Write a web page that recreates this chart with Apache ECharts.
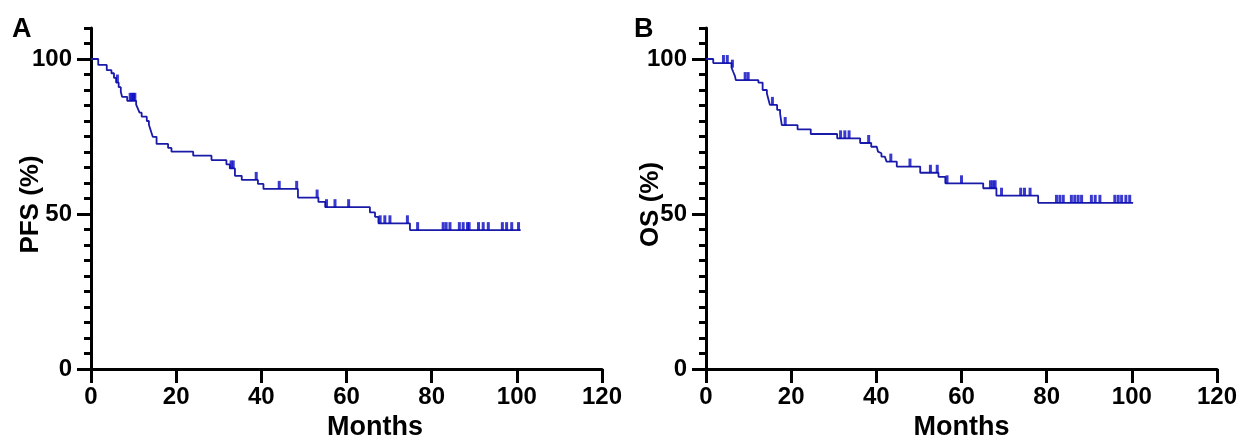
<!DOCTYPE html>
<html>
<head>
<meta charset="utf-8">
<script src="https://cdn.jsdelivr.net/npm/echarts@6/dist/echarts.min.js"></script>
<style>html,body{margin:0;padding:0;background:#fff}#c{width:1244px;height:439px}</style>
</head>
<body>
<div id="c"></div>
<script>
// ---- Data ----
const xTicks = [0, 20, 40, 60, 80, 100, 120];
const yMajorTicks = [0, 50, 100];
const yMinorTicks = [5,10,15,20,25,30,35,40,45,55,60,65,70,75,80,85,90,95,105,110];

// Panel A: PFS step points [month, survival % after event]
const pfsSteps = [[0,100],[1.7,98.1],[3.7,96.4],[4.8,95.4],[5.4,93.9],[5.9,92.4],[6.5,90.9],[7.0,89.4],[7.3,87.8],[8.5,86.5],[10.6,85.3],[11.0,84.0],[11.4,82.7],[11.9,81.4],[13.1,80.0],[13.6,78.8],[13.9,77.5],[14.2,76.2],[14.5,74.9],[15.4,72.6],[18.1,71.3],[18.9,70.1],[24.0,68.8],[28.3,67.4],[31.8,66.0],[32.6,64.7],[33.8,62.3],[35.4,61.0],[39.2,59.7],[40.5,58.1],[48.6,55.3],[53.4,53.9],[55.0,52.2],[65.5,50.5],[66.7,49.1],[67.5,47.0],[74.9,44.8],[100.9,44.8]];
// Panel A: censored observations [month, survival %]
const pfsCensored = [[6.2,92.4],[9.2,86.5],[9.6,86.5],[10.0,86.5],[10.3,86.5],[32.9,64.7],[33.4,64.7],[38.8,61.0],[44.2,58.1],[48.3,58.1],[53.1,55.3],[55.3,52.2],[57.3,52.2],[60.5,52.2],[67.9,47.0],[69.0,47.0],[70.2,47.0],[74.3,47.0],[76.7,44.8],[82.7,44.8],[83.4,44.8],[84.3,44.8],[86.5,44.8],[87.4,44.8],[88.4,44.8],[88.8,44.8],[91.0,44.8],[92.1,44.8],[93.3,44.8],[96.6,44.8],[97.6,44.8],[98.8,44.8],[100.4,44.8]];

// Panel B: OS step points
const osSteps = [[0,100],[1.7,98.7],[6.0,97.2],[6.4,95.8],[6.8,94.5],[7.0,93.2],[12.3,92.4],[13.3,90.0],[14.3,88.9],[14.7,86.8],[15.0,85.2],[16.7,83.6],[17.4,82.4],[17.6,80.5],[17.8,78.7],[21.5,77.3],[24.6,75.8],[30.8,74.4],[36.2,72.9],[38.8,71.7],[40.1,71.1],[40.4,70.1],[40.8,69.6],[41.2,68.5],[42.0,68.0],[42.4,66.9],[44.8,65.3],[50.3,63.3],[54.6,62.0],[56.2,59.9],[65.1,58.3],[68.2,55.9],[78.0,53.6],[100.3,53.6]];
const osCensored = [[4.1,98.7],[5.0,98.7],[6.2,97.2],[9.2,93.2],[9.9,93.2],[15.6,85.2],[18.6,78.7],[31.6,74.4],[32.6,74.4],[33.6,74.4],[38.2,72.9],[43.4,66.9],[47.9,65.3],[52.7,63.3],[54.3,63.3],[56.6,59.9],[60.0,59.9],[66.8,58.3],[67.4,58.3],[67.9,58.3],[69.4,55.9],[73.9,55.9],[74.8,55.9],[76.1,55.9],[82.3,53.6],[83.1,53.6],[83.9,53.6],[85.8,53.6],[86.6,53.6],[87.4,53.6],[88.2,53.6],[90.5,53.6],[91.4,53.6],[92.5,53.6],[96.0,53.6],[96.8,53.6],[97.6,53.6],[98.6,53.6],[99.5,53.6]];

const panelLabels = ['A', 'B'];
const yNames = ['PFS (%)', 'OS (%)'];
const xName = 'Months';

// ---- Styles ----
const FONT = 'Liberation Sans, Arial, sans-serif';
const LINE_COLOR = '#1a1aa8';
const MARK_COLOR = '#0808c0';
const AX = {color: '#000', width: 3};

const grids = [
  {left: 91, right: 642, top: 28, bottom: 70, outerBoundsMode: 'none', containLabel: false},
  {left: 706, right: 27, top: 28, bottom: 70, outerBoundsMode: 'none', containLabel: false}
];
const yNameGaps = [47, 42];

const xAxes = [0, 1].map(i => ({
  type: 'value', gridIndex: i, min: 0, max: 120, interval: 20,
  axisLine: {show: true, onZero: false, lineStyle: AX},
  axisTick: {show: true, length: 14, lineStyle: AX},
  axisLabel: {fontFamily: FONT, fontWeight: 'bold', fontSize: 24, color: '#000', margin: 16,
    customValues: xTicks},
  splitLine: {show: false},
  name: xName, nameLocation: 'middle', nameGap: 45, nameMoveOverlap: false,
  nameTextStyle: {fontFamily: FONT, fontWeight: 'bold', fontSize: 27, color: '#000',
    padding: i === 0 ? [0, 0, 0, 57] : 0}
}));

const yAxes = [];
[0, 1].forEach(i => {
  yAxes.push({
    type: 'value', gridIndex: i, min: 0, max: 110, position: 'left',
    axisLine: {show: true, onZero: false, lineStyle: AX},
    axisTick: {show: true, length: 14, lineStyle: AX, customValues: yMajorTicks},
    axisLabel: {fontFamily: FONT, fontWeight: 'bold', fontSize: 24, color: '#000', margin: 19,
      customValues: yMajorTicks},
    splitLine: {show: false},
    name: yNames[i], nameLocation: 'middle', nameGap: yNameGaps[i], nameRotate: 90,
    nameMoveOverlap: false,
    nameTextStyle: {fontFamily: FONT, fontWeight: 'bold', fontSize: 26, color: '#000',
      padding: [0, 12, 0, 0]}
  });
  yAxes.push({
    type: 'value', gridIndex: i, min: 0, max: 110, position: 'left',
    axisLine: {show: false},
    axisTick: {show: true, length: 7, lineStyle: AX, customValues: yMinorTicks},
    axisLabel: {show: false},
    splitLine: {show: false}
  });
});

function stepSeries(i, data) {
  return {type: 'line', xAxisIndex: i, yAxisIndex: i * 2, data: data, step: 'end',
    showSymbol: false, symbol: 'none', lineStyle: {color: LINE_COLOR, width: 1.8}, z: 3, animation: false};
}
function censorSeries(i, data) {
  return {type: 'scatter', xAxisIndex: i, yAxisIndex: i * 2, data: data,
    symbol: 'rect', symbolSize: [3, 8], symbolOffset: [0, -4],
    itemStyle: {color: MARK_COLOR}, z: 4, animation: false};
}

const option = {
  backgroundColor: '#fff',
  animation: false,
  grid: grids,
  xAxis: xAxes,
  yAxis: yAxes,
  series: [
    stepSeries(0, pfsSteps), censorSeries(0, pfsCensored),
    stepSeries(1, osSteps), censorSeries(1, osCensored)
  ],
  graphic: [
    {type: 'text', left: 12, top: 16, style: {text: panelLabels[0], font: 'bold 27px ' + FONT, fill: '#000'}},
    {type: 'text', left: 634, top: 16, style: {text: panelLabels[1], font: 'bold 27px ' + FONT, fill: '#000'}}
  ]
};

const chart = echarts.init(document.getElementById('c'), null, {renderer: 'canvas'});
chart.setOption(option);
</script>
</body>
</html>
